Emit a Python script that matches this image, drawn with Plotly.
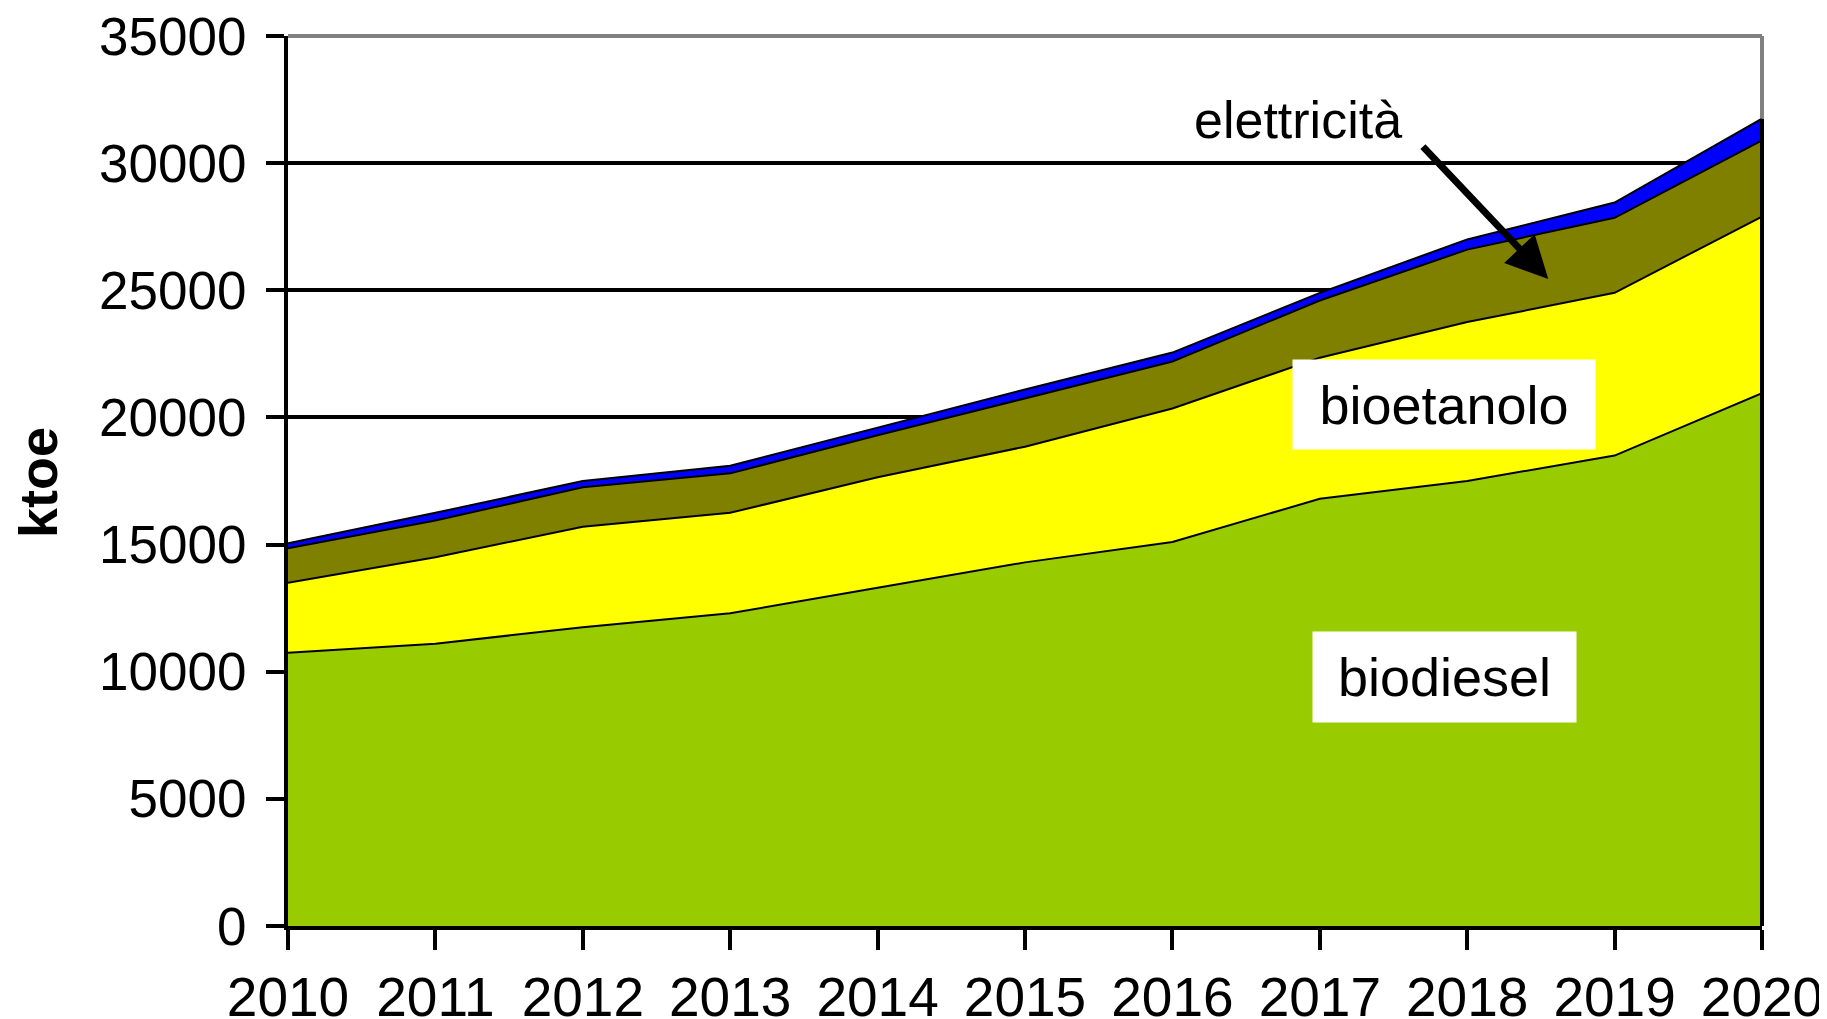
import plotly.graph_objects as go

years = [2010, 2011, 2012, 2013, 2014, 2015, 2016, 2017, 2018, 2019, 2020]
biodiesel = [10750, 11100, 11750, 12300, 13300, 14300, 15100, 16800, 17500, 18500, 20950]
bioetanolo = [2750, 3400, 3950, 3950, 4350, 4550, 5250, 5550, 6250, 6400, 6950]
altri = [1350, 1450, 1550, 1550, 1650, 1900, 1850, 2250, 2850, 2950, 3000]
elettricita = [200, 300, 250, 300, 300, 350, 350, 300, 400, 600, 850]

y_ticks = [0, 5000, 10000, 15000, 20000, 25000, 30000, 35000]

series = [
    ("biodiesel", biodiesel, "#99CC00"),
    ("bioetanolo", bioetanolo, "#FFFF00"),
    ("altri", altri, "#808000"),
    ("elettricità", elettricita, "#0000FF"),
]

FONT = "Liberation Sans, Arial, sans-serif"

fig = go.Figure()
for name, vals, col in series:
    fig.add_trace(go.Scatter(
        x=years, y=vals, name=name, mode="lines",
        stackgroup="one", fillcolor=col,
        line=dict(color="black", width=2),
    ))

total_last = biodiesel[-1] + bioetanolo[-1] + altri[-1] + elettricita[-1]

fig.update_layout(
    width=1819, height=1011,
    margin=dict(l=280, r=65, t=28, b=93, autoexpand=False),
    plot_bgcolor="white", paper_bgcolor="white",
    showlegend=False,
    font=dict(family=FONT, color="black"),
    xaxis=dict(
        range=[2010, 2020], tickvals=years, ticktext=[str(y) for y in years],
        showgrid=False, zeroline=False, automargin=False,
        showline=True, linecolor="black", linewidth=4,
        ticks="outside", ticklen=20, tickwidth=4, tickcolor="black",
        tickfont=dict(size=55, family=FONT, color="black"),
        ticklabelstandoff=0, ticklabeloverflow="allow",
    ),
    yaxis=dict(
        range=[0, 35000], tickvals=y_ticks, ticktext=[str(v) for v in y_ticks],
        showgrid=True, gridcolor="black", gridwidth=3.5,
        zeroline=False, automargin=False,
        showline=True, linecolor="black", linewidth=4,
        ticks="outside", ticklen=18, tickwidth=4, tickcolor="black",
        tickfont=dict(size=53, family=FONT, color="black"),
        ticklabelstandoff=9, ticklabeloverflow="allow",
    ),
    shapes=[
        dict(type="line", xref="paper", yref="paper", x0=0, x1=1, y0=1, y1=1,
             line=dict(color="#808080", width=4), layer="above"),
        dict(type="line", xref="paper", yref="y", x0=1, x1=1, y0=total_last, y1=35000,
             line=dict(color="#808080", width=4), layer="above"),
        dict(type="line", xref="paper", yref="y", x0=1, x1=1, y0=0, y1=total_last,
             line=dict(color="black", width=4), layer="above"),
    ],
    annotations=[
        dict(text="<b>ktoe</b>", xref="paper", yref="paper", x=-0.1696, y=0.4978,
             textangle=-90, showarrow=False, xanchor="center", yanchor="middle",
             font=dict(size=54, family=FONT, color="black")),
        dict(text="elettricità", xref="paper", yref="paper", x=0.6852, y=0.9056,
             showarrow=False, xanchor="center", yanchor="middle",
             font=dict(size=52, family=FONT, color="black")),
        dict(text="", xref="x", yref="y", x=2018.55, y=25440,
             axref="x", ayref="y", ax=2017.69, ay=30710,
             showarrow=True, arrowhead=2, arrowsize=1.2, arrowwidth=7,
             arrowcolor="black"),
        dict(text="bioetanolo", xref="paper", yref="paper", x=0.7843, y=0.5854,
             showarrow=False, xanchor="center", yanchor="middle",
             bgcolor="white", width=300, height=87,
             font=dict(size=54, family=FONT, color="black")),
        dict(text="biodiesel", xref="paper", yref="paper", x=0.7843, y=0.2798,
             showarrow=False, xanchor="center", yanchor="middle",
             bgcolor="white", width=261, height=88,
             font=dict(size=54, family=FONT, color="black")),
    ],
)

fig.write_html("out.html")
